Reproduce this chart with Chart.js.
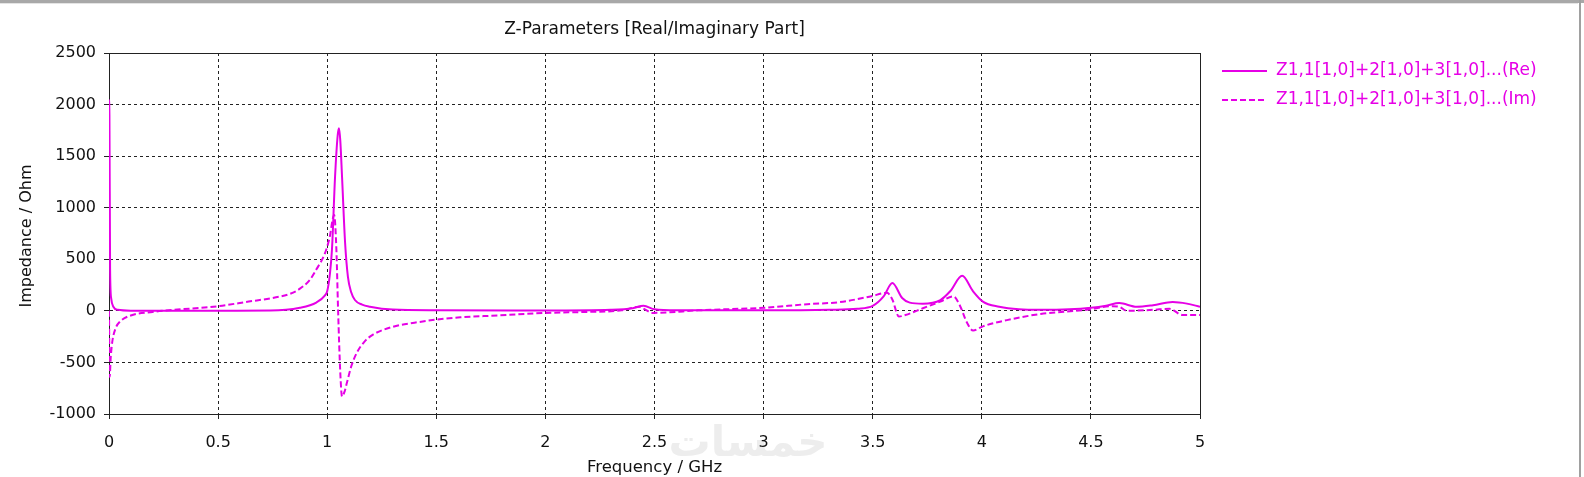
<!DOCTYPE html>
<html>
<head>
<meta charset="utf-8">
<script src="https://cdn.jsdelivr.net/npm/chart.js@4"></script>
<style>
    body { margin: 0; background: #fff; }
    #wrap { position: relative; width: 1584px; height: 477px; }
</style>
</head>
<body>
<div id="wrap"><canvas id="zChart" width="1584" height="477"></canvas></div>
<script>
const TITLE = 'Z-Parameters [Real/Imaginary Part]';
const X_TITLE = 'Frequency / GHz';
const Y_TITLE = 'Impedance / Ohm';
const LEGEND_RE = 'Z1,1[1,0]+2[1,0]+3[1,0]...(Re)';
const LEGEND_IM = 'Z1,1[1,0]+2[1,0]+3[1,0]...(Im)';
const WATERMARK = 'خمسات';
const CURVE_COLOR = '#e600e6';

// GHz
const reFreq = [0, 0.002, 0.005, 0.01, 0.02, 0.04, 0.1, 0.5, 0.74, 0.875, 0.95, 0.99, 1.0, 1.012, 1.022, 1.036, 1.048, 1.054,
    1.06, 1.068, 1.082, 1.095, 1.11, 1.127, 1.16, 1.196, 1.3, 1.5, 2.0, 2.3, 2.4, 2.45, 2.5, 2.6, 3.0, 3.3, 3.43, 3.5,
    3.55, 3.59, 3.635, 3.67, 3.73, 3.81, 3.855, 3.91, 3.96, 4.005, 4.08, 4.17, 4.27, 4.4, 4.5, 4.57, 4.63, 4.71, 4.785,
    4.875, 4.94, 5.0];
// Ohm
const reValues = [2050, 1900, 400, 120, 40, 10, 2, 2, 3, 30, 80, 150, 190, 350, 600, 1300, 1700, 1770,
    1650, 1300, 660, 330, 180, 105, 60, 40, 12, 5, 3, 10, 25, 50, 15, 5, 5, 10, 20, 48,
    140, 270, 125, 80, 70, 105, 190, 340, 190, 90, 40, 15, 10, 15, 30, 50, 75, 40, 55,
    85, 70, 40];

const imFreq = [0, 0.003, 0.008, 0.015, 0.03, 0.05, 0.1, 0.2, 0.3, 0.5, 0.64, 0.75, 0.83, 0.875, 0.92, 0.95, 0.99,
    1.01, 1.032, 1.042, 1.05, 1.06, 1.068, 1.08, 1.09, 1.11, 1.136, 1.17, 1.21, 1.3, 1.4, 1.5, 1.61, 1.78, 2.0, 2.2,
    2.35, 2.43, 2.46, 2.49, 2.56, 2.7, 2.89, 3.0, 3.2, 3.35, 3.49, 3.565, 3.59, 3.62, 3.65, 3.73, 3.81, 3.87, 3.9,
    3.93, 3.96, 4.005, 4.115, 4.27, 4.48, 4.6, 4.63, 4.665, 4.785, 4.86, 4.92, 5.0];
const imValues = [0, -640, -450, -300, -170, -105, -45, -10, 10, 45, 90, 125, 165, 215, 300, 400, 560,
    700, 930, 600, 0, -600, -830, -780, -700, -540, -405, -300, -230, -155, -115, -85, -62, -45, -20, -10,
    5, 40, 10, -20, -15, 5, 20, 30, 65, 85, 140, 175, 110, -55, -40, 25, 90, 140, 50,
    -105, -190, -150, -90, -30, 10, 45, 40, 0, 10, 20, -40, -40];

const xTicks = ['0', '0.5', '1', '1.5', '2', '2.5', '3', '3.5', '4', '4.5', '5'];
const yTicks = ['-1000', '-500', '0', '500', '1000', '1500', '2000', '2500'];

const FONT = '"DejaVu Sans", sans-serif';

function toPoints(xs, ys) {
    return xs.map((x, i) => ({ x: x, y: ys[i] }));
}

const decorPlugin = {
    id: 'decor',
    beforeDraw(chart) {
        const ctx = chart.ctx;
        ctx.save();
        ctx.fillStyle = '#fff';
        ctx.fillRect(0, 0, chart.width, chart.height);
        // window frame
        ctx.fillStyle = '#a8a8a8';
        ctx.fillRect(0, 0, chart.width, 3);
        ctx.fillStyle = '#e4e4e4';
        ctx.fillRect(0, 3, 1578, 1);
        ctx.fillStyle = '#a0a0a0';
        ctx.fillRect(1579, 0, 2, chart.height);
        // watermark
        ctx.fillStyle = '#ededed';
        ctx.font = 'bold 42px "DejaVu Sans", sans-serif';
        ctx.textAlign = 'center';
        ctx.textBaseline = 'middle';
        ctx.fillText(WATERMARK, 748, 445);
        ctx.restore();
    },
    beforeDatasetsDraw(chart) {
        const ctx = chart.ctx;
        const a = chart.chartArea;
        ctx.save();
        ctx.strokeStyle = '#222';
        ctx.lineWidth = 1;
        ctx.strokeRect(a.left + 0.5, a.top + 0.5, a.right - a.left, a.bottom - a.top);
        ctx.restore();
    },
    afterDraw(chart) {
        const ctx = chart.ctx;
        const a = chart.chartArea;
        ctx.save();
        ctx.fillStyle = '#111';
        ctx.textAlign = 'center';
        ctx.textBaseline = 'middle';
        ctx.font = '17px ' + FONT;
        ctx.fillText(TITLE, (a.left + a.right) / 2, 30);
        ctx.font = '16.5px ' + FONT;
        ctx.fillText(X_TITLE, (a.left + a.right) / 2, 468);

        ctx.save();
        ctx.translate(27, 236);
        ctx.rotate(-Math.PI / 2);
        ctx.font = '16px ' + FONT;
        ctx.fillText(Y_TITLE, 0, 0);
        ctx.restore();

        // legend
        ctx.strokeStyle = CURVE_COLOR;
        ctx.fillStyle = CURVE_COLOR;
        ctx.lineWidth = 2;
        ctx.textAlign = 'left';
        ctx.font = '17px ' + FONT;
        ctx.beginPath();
        ctx.moveTo(1222, 71);
        ctx.lineTo(1267, 71);
        ctx.stroke();
        ctx.setLineDash([6, 3]);
        ctx.beginPath();
        ctx.moveTo(1222, 100);
        ctx.lineTo(1267, 100);
        ctx.stroke();
        ctx.setLineDash([]);
        ctx.fillText(LEGEND_RE, 1276, 71);
        ctx.fillText(LEGEND_IM, 1276, 100);
        ctx.restore();
    }
};

const gridCommon = {
    color: '#222',
    lineWidth: 1,
    drawTicks: true,
    tickLength: 5,
    tickColor: '#222'
};

const ctx = document.getElementById('zChart').getContext('2d');
new Chart(ctx, {
    type: 'line',
    data: {
        datasets: [
            {
                label: LEGEND_RE,
                data: toPoints(reFreq, reValues),
                borderColor: CURVE_COLOR,
                borderWidth: 2,
                pointRadius: 0,
                cubicInterpolationMode: 'monotone',
                fill: false
            },
            {
                label: LEGEND_IM,
                data: toPoints(imFreq, imValues),
                borderColor: CURVE_COLOR,
                borderWidth: 2,
                borderDash: [6, 3],
                pointRadius: 0,
                cubicInterpolationMode: 'monotone',
                fill: false
            }
        ]
    },
    options: {
        responsive: false,
        animation: false,
        devicePixelRatio: 1,
        layout: { padding: { left: 0, top: 53, right: 384, bottom: 0 } },
        plugins: {
            legend: { display: false },
            title: { display: false },
            tooltip: { enabled: false }
        },
        scales: {
            x: {
                type: 'linear',
                min: 0,
                max: 5,
                afterFit: s => { s.height = 63; },
                afterBuildTicks: s => { s.ticks = xTicks.map(t => ({ value: Number(t) })); },
                ticks: {
                    color: '#111',
                    font: { family: FONT, size: 16 },
                    padding: 14,
                    maxRotation: 0,
                    callback: v => String(v)
                },
                grid: gridCommon,
                border: { display: true, color: '#222', width: 1, dash: [3, 3] }
            },
            y: {
                type: 'linear',
                min: -1000,
                max: 2500,
                afterFit: s => { s.width = 109; },
                afterBuildTicks: s => { s.ticks = yTicks.map(t => ({ value: Number(t) })); },
                ticks: {
                    color: '#111',
                    font: { family: FONT, size: 16 },
                    padding: 8,
                    callback: v => String(v)
                },
                grid: gridCommon,
                border: { display: true, color: '#222', width: 1, dash: [3, 3] }
            }
        }
    },
    plugins: [decorPlugin]
});
</script>
</body>
</html>
